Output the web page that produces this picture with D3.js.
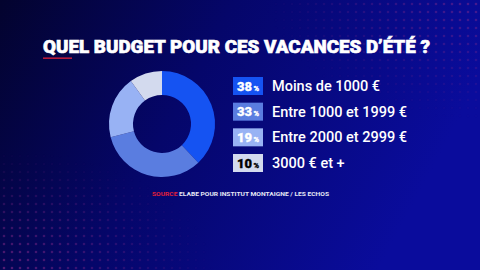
<!DOCTYPE html>
<html>
<head>
<meta charset="utf-8">
<script src="https://cdn.jsdelivr.net/npm/d3@7"></script>
<style>
  body { margin: 0; background: #04053a; }
  svg { display: block; }
</style>
</head>
<body>
<div class="displayArea"></div>
<script>
var categories = ["Moins de 1000 €", "Entre 1000 et 1999 €", "Entre 2000 et 2999 €", "3000 € et +"],
    values = [38, 33, 19, 10],
    colors = ["#1553f2", "#5a7de0", "#98b2f4", "#d3daee"],
    badgeText = ["#ffffff", "#ffffff", "#ffffff", "#000000"]

var title = "QUEL BUDGET POUR CES VACANCES D’ÉTÉ ?",
    source = "ELABE POUR INSTITUT MONTAIGNE / LES ECHOS"

var width = 480,
    height = 270

var svg = d3.select(".displayArea")
    .append("svg")
    .attr("width", width)
    .attr("height", height)

// background gradient
var defs = svg.append("defs")
var grad = defs.append("linearGradient")
    .attr("id", "bg")
    .attr("x1", "0").attr("y1", "0").attr("x2", "1").attr("y2", "0.3")
grad.append("stop").attr("offset", "0").attr("stop-color", "#03032e")
grad.append("stop").attr("offset", "0.45").attr("stop-color", "#05066a")
grad.append("stop").attr("offset", "1").attr("stop-color", "#0a0c9c")

var pat = defs.append("pattern")
    .attr("id", "dots")
    .attr("width", 8).attr("height", 8)
    .attr("patternUnits", "userSpaceOnUse")
pat.append("circle").attr("cx", 4).attr("cy", 4).attr("r", 1.3).attr("fill", "#8a2a8a")

var fadeTR = defs.append("radialGradient").attr("id", "fadeTR")
    .attr("cx", "1").attr("cy", "0").attr("r", "0.45")
fadeTR.append("stop").attr("offset", "0").attr("stop-color", "#fff").attr("stop-opacity", 0.5)
fadeTR.append("stop").attr("offset", "1").attr("stop-color", "#fff").attr("stop-opacity", 0)
defs.append("mask").attr("id", "maskTR")
    .append("rect").attr("width", width).attr("height", height).attr("fill", "url(#fadeTR)")

var fadeBL = defs.append("radialGradient").attr("id", "fadeBL")
    .attr("cx", "0").attr("cy", "1").attr("r", "0.45")
fadeBL.append("stop").attr("offset", "0").attr("stop-color", "#fff").attr("stop-opacity", 0.6)
fadeBL.append("stop").attr("offset", "1").attr("stop-color", "#fff").attr("stop-opacity", 0)
defs.append("mask").attr("id", "maskBL")
    .append("rect").attr("width", width).attr("height", height).attr("fill", "url(#fadeBL)")

svg.append("rect").attr("width", width).attr("height", height).attr("fill", "url(#bg)")
svg.append("rect").attr("width", width).attr("height", height)
    .attr("fill", "url(#dots)").attr("mask", "url(#maskTR)")
svg.append("rect").attr("width", width).attr("height", height)
    .attr("fill", "url(#dots)").attr("mask", "url(#maskBL)")

// title
svg.append("text")
    .attr("x", 43)
    .attr("y", 53)
    .attr("textLength", 387)
    .attr("lengthAdjust", "spacingAndGlyphs")
    .attr("fill", "#ffffff")
    .attr("stroke", "#ffffff")
    .attr("stroke-width", 0.6)
    .attr("font-family", "Roboto")
    .attr("font-weight", 900)
    .attr("font-size", 18.5)
    .text(title)

svg.append("rect")
    .attr("x", 43).attr("y", 57.5)
    .attr("width", 29).attr("height", 1.3)
    .attr("fill", "#e0203a")

// donut
var pie = d3.pie().sort(null).value(function (d) { return d })
var arc = d3.arc().innerRadius(29).outerRadius(53)

svg.append("g")
    .attr("transform", "translate(162,124)")
    .selectAll("path")
    .data(pie(values))
    .enter()
    .append("path")
    .attr("d", arc)
    .attr("fill", function (d, i) { return colors[i] })

// legend
var yScale = d3.scalePoint()
    .domain(categories)
    .range([86, 163])

var rows = svg.selectAll(".row")
    .data(categories)
    .enter()
    .append("g")
    .attr("class", "row")
    .attr("transform", function (d) { return `translate(233,${yScale(d)})` })

rows.append("rect")
    .attr("x", 0).attr("y", -9)
    .attr("width", 30).attr("height", 18)
    .attr("fill", function (d, i) { return colors[i] })

var badge = rows.append("text")
    .attr("x", 15).attr("y", 4.5)
    .attr("text-anchor", "middle")
    .attr("font-family", "Roboto")
    .attr("font-weight", 900)
    .attr("stroke", function (d, i) { return badgeText[i] })
    .attr("stroke-width", 0.3)
    .attr("fill", function (d, i) { return badgeText[i] })
badge.append("tspan").attr("font-size", 13).text(function (d, i) { return values[i] })
badge.append("tspan").attr("font-size", 7.5).attr("dx", 1.5).text("%")

rows.append("text")
    .attr("x", 39).attr("y", 5)
    .attr("font-family", "Roboto")
    .attr("font-weight", 500)
    .attr("font-size", 14.5)
    .attr("fill", "#ffffff")
    .text(function (d) { return d })

// source
var src = svg.append("text")
    .attr("x", 152).attr("y", 196)
    .attr("font-family", "Roboto")
    .attr("font-weight", 700)
    .attr("font-size", 6)
    .attr("textLength", 177)
    .attr("lengthAdjust", "spacingAndGlyphs")
src.append("tspan").attr("fill", "#e0203a").text("SOURCE ")
src.append("tspan").attr("fill", "#e6e8f5").text(source)
</script>
</body>
</html>
